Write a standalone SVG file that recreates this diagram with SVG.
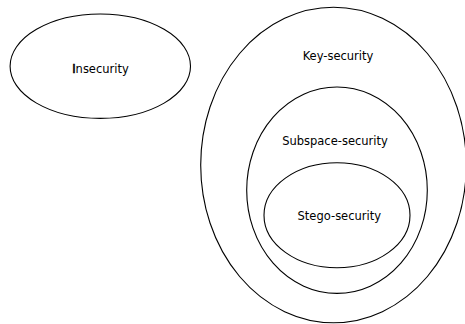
<svg xmlns="http://www.w3.org/2000/svg" width="465" height="324" viewBox="0 0 465 324">
  <style>
    .ring { fill: none; stroke: #000; stroke-width: 1.1; }
    .label { font-family: "DejaVu Sans", sans-serif; font-size: 11.5px; fill: #000; text-anchor: middle; }
  </style>
  <rect width="465" height="324" fill="#fff"/>
  <g id="insecurity">
    <ellipse class="ring" cx="100.3" cy="66.2" rx="90.2" ry="52.2"/>
    <text class="label" x="100.5" y="72.7"><tspan stroke="#000" stroke-width="0.6">I</tspan>nsecurity</text>
  </g>
  <g id="key-security">
    <ellipse class="ring" cx="333.5" cy="165" rx="132.8" ry="157.7"/>
    <text class="label" x="338" y="60">Key-security</text>
  </g>
  <g id="subspace-security">
    <ellipse class="ring" cx="337" cy="190.2" rx="90.3" ry="103.2"/>
    <text class="label" x="335" y="145">Subspace-security</text>
  </g>
  <g id="stego-security">
    <ellipse class="ring" cx="337" cy="215.2" rx="73" ry="52.5"/>
    <text class="label" x="339.3" y="220">Stego-security</text>
  </g>
  <g id="connectors"/>
</svg>
